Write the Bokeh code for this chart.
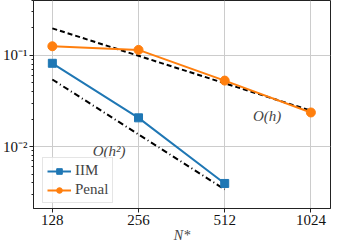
from bokeh.plotting import figure
from bokeh.models import FixedTicker, Label, Legend
from bokeh.embed import file_html
from bokeh.resources import INLINE

N = [128, 256, 512, 1024]
N_iim = [128, 256, 512]
iim = [0.082, 0.0207, 0.00395]
penal = [0.126, 0.115, 0.053, 0.0237]
ref1_N = [128, 1024]
ref1 = [0.198, 0.0248]
ref2_N = [128, 512]
ref2 = [0.0545, 0.0034]
x_ticks = [128, 256, 512, 1024]
x_labels = ["128", "256", "512", "1024"]
y_ticks = [0.01, 0.1]
y_labels = ["10\u207b\u00b2", "10\u207b\u00b9"]

FONT = "Liberation Serif"

p = figure(width=331, height=248, x_axis_type="log", y_axis_type="log",
           x_range=(110, 1199), y_range=(0.0021, 0.40),
           output_backend="svg", toolbar_location=None,
           min_border_left=27, min_border_right=1, min_border_top=0, min_border_bottom=40)

p.outline_line_color = "#222222"
p.outline_line_width = 1
p.background_fill_color = "white"
p.border_fill_color = "white"

p.xaxis.ticker = FixedTicker(ticks=x_ticks, minor_ticks=[])
p.xaxis.major_label_overrides = {t: l for t, l in zip(x_ticks, x_labels)}
minor_y = [m * 10.0 ** k for k in (-3, -2, -1) for m in range(2, 10)]
p.yaxis.ticker = FixedTicker(ticks=y_ticks, minor_ticks=minor_y)
p.yaxis.major_label_overrides = {t: l for t, l in zip(y_ticks, y_labels)}

for ax in (p.xaxis, p.yaxis):
    ax.axis_line_color = "#222222"
    ax.major_tick_in = 0
    ax.major_tick_out = 4
    ax.minor_tick_in = 0
    ax.minor_tick_out = 2
    ax.major_tick_line_color = "#222222"
    ax.minor_tick_line_color = "#222222"
    ax.major_label_text_font = FONT
    ax.major_label_text_font_size = "15px"
    ax.major_label_text_color = "#111111"
    ax.major_label_standoff = 2

p.xaxis.axis_label = "N*"
p.xaxis.axis_label_text_font = FONT
p.xaxis.axis_label_text_font_style = "italic"
p.xaxis.axis_label_text_font_size = "14px"
p.xaxis.axis_label_standoff = 0

p.xgrid.grid_line_color = "#cccccc"
p.ygrid.grid_line_color = "#cccccc"
p.xgrid.grid_line_width = 1
p.ygrid.grid_line_width = 1

p.line(ref1_N, ref1, line_color="black", line_width=2, line_dash="5 3")
p.line(ref2_N, ref2, line_color="black", line_width=2, line_dash="6 3 1 3")

l1 = p.line(N_iim, iim, line_color="#1f77b4", line_width=2)
s1 = p.scatter(N_iim, iim, marker="square", size=8, color="#1f77b4")
l2 = p.line(N, penal, line_color="#ff7f0e", line_width=2)
s2 = p.scatter(N, penal, marker="circle", size=9, color="#ff7f0e")

p.add_layout(Label(x=720, y=0.0219, text="O(h)", text_font=FONT, text_font_style="italic",
                   text_font_size="15px", text_align="center", text_baseline="middle"))
p.add_layout(Label(x=202, y=0.0089, text="O(h\u00b2)", text_font=FONT, text_font_style="italic",
                   text_font_size="15px", text_align="center", text_baseline="middle"))

legend = Legend(items=[("IIM", [l1, s1]), ("Penal", [l2, s2])], location=(9, 5))
legend.label_text_font = FONT
legend.label_text_font_size = "15px"
legend.glyph_width = 24
legend.glyph_height = 14
legend.label_height = 14
legend.spacing = 2
legend.padding = 4
legend.margin = 0
legend.label_standoff = 4
legend.border_line_color = "#cccccc"
legend.background_fill_alpha = 0.8
p.add_layout(legend)

open("out.html", "w").write(file_html(p, INLINE))
